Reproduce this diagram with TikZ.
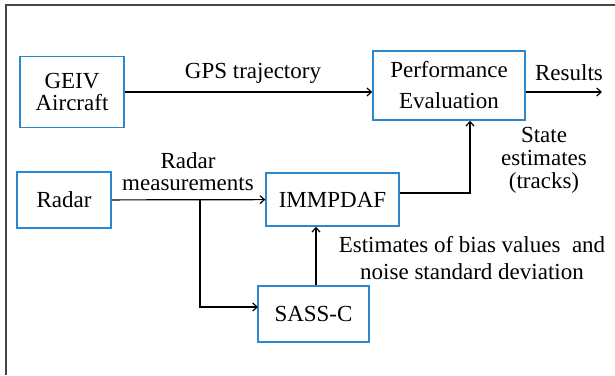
\documentclass[tikz,border=0pt]{standalone}
\usepackage{fontspec}
\setmainfont{Liberation Serif}
\usepackage{tikz}
\usetikzlibrary{arrows.meta}
\definecolor{boxblue}{RGB}{45,135,205}
\definecolor{framegray}{RGB}{70,70,70}
\tikzset{%
  >={Straight Barb[width=4pt,length=2.2pt]},
  % Specifications for style of nodes:
        block/.style = {rectangle, draw=boxblue, line width=0.75pt,
                        inner sep=0pt, text centered, align=center,
                        font=\fontsize{11.5}{11}\selectfont},
        label/.style = {inner sep=0pt, align=center,
                        font=\fontsize{11.5}{11}\selectfont},
         flow/.style = {->, line width=0.6pt},
}

\begin{document}
\begin{tikzpicture}[x=0.5pt, y=-0.5pt]
  \useasboundingbox (0,0) rectangle (615,375);
  % outer frame (cut off at right and bottom)
  \draw[framegray, line width=0.75pt] (615,5) -- (6,5) -- (6,375);
  % Specification of nodes (position, etc.)
  \node (geivBlock)  [block, minimum width=52pt, minimum height=35.5pt] at (72,92) {GEIV\\Aircraft};
  \node (perfBlock)  [block, minimum width=76pt, minimum height=34.5pt,
                      font=\fontsize{11.5}{15.5}\selectfont] at (449,85.5) {Performance\\Evaluation};
  \node (radarBlock) [block, minimum width=47pt, minimum height=28pt] at (64,200) {Radar};
  \node (immBlock)   [block, minimum width=66.5pt, minimum height=26.5pt] at (332.5,199.5) {IMMPDAF};
  \node (sassBlock)  [block, minimum width=55.5pt, minimum height=28pt] at (313.5,314) {SASS-C};
  \coordinate (results) at (602,92);
  \coordinate (branch)  at (200,199.5);
  \coordinate (sassIn)  at (258,307);
  % Specification of lines between nodes specified above
  \draw[flow] (geivBlock) -- (geivBlock -| perfBlock.west);
  \draw[flow] (perfBlock.east |- results) -- (results);
  \draw[flow] (radarBlock) -- (immBlock);
  \draw[flow] (branch) |- (sassIn);
  \draw[flow] ([xshift=1.25pt]sassBlock.north) -- ([xshift=1.25pt]sassBlock.north |- immBlock.south);
  \draw[flow] ([yshift=3.25pt]immBlock.east) -| ([xshift=10.5pt]perfBlock.south);
  % with aditional nodes for description
  \node (gpsLabel)     [label] at (253,73)  {GPS trajectory};
  \node (resultsLabel) [label] at (569,73)  {Results};
  \node (radarLabel)   [label] at (188,172) {Radar\\measurements};
  \node (stateLabel)   [label, font=\fontsize{11.5}{11.5}\selectfont] at (544,160) {State\\estimates\\(tracks)};
  \node (biasLabel)    [label, font=\fontsize{11.5}{13.5}\selectfont] at (472,258) {Estimates of bias values\ \ and\\noise standard deviation};
\end{tikzpicture}
\end{document}
